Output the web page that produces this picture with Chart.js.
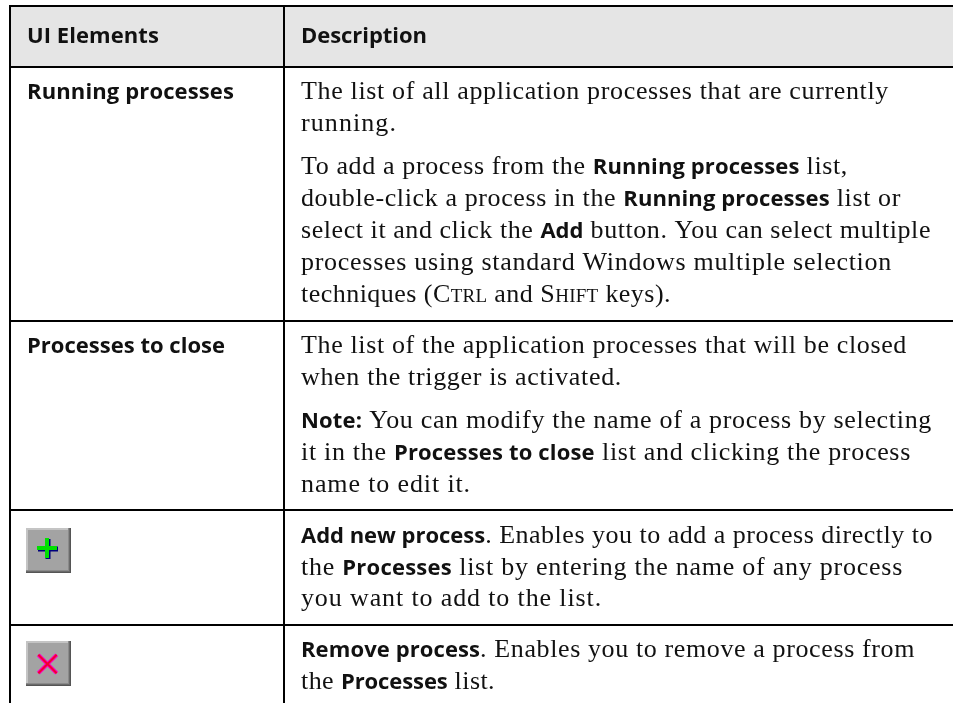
<!DOCTYPE html>
<html>
<head>
<meta charset="utf-8">
<style>
  html, body { margin: 0; padding: 0; background: #fff; overflow: hidden; }
  canvas { display: block; }
</style>
<script src="https://cdn.jsdelivr.net/npm/chart.js@4"></script>
</head>
<body>
<canvas id="tableChart" width="953" height="703"></canvas>
<script>
// table structure
const columnEdges = [10, 284];
const rowEdges    = [6, 67, 321, 510, 625];
const iconRows    = [550.5, 663.5];

// text lines: [x, baseline, right end, runs]; a run is [style, text]
const B = 'b', R = 'r', S = 's';
const textLines = [
  [27, 43, 159, [[B, 'UI Elements']]],
  [301, 43, 427, [[B, 'Description']]],
  [27, 99, 234, [[B, 'Running processes']]],
  [301, 99, 889, [[R, 'The list of all application processes that are currently']]],
  [301, 131, 397, [[R, 'running.']]],
  [301, 174, 848, [[R, 'To add a process from the '], [B, 'Running processes'], [R, ' list,']]],
  [301, 206, 901, [[R, 'double-click a process in the '], [B, 'Running processes'], [R, ' list or']]],
  [301, 238, 931, [[R, 'select it and click the '], [B, 'Add'], [R, ' button. You can select multiple']]],
  [301, 270, 892, [[R, 'processes using standard Windows multiple selection']]],
  [301, 302, 671, [[R, 'techniques (C'], [S, 'TRL'], [R, ' and S'], [S, 'HIFT'], [R, ' keys).']]],
  [27, 353, 225, [[B, 'Processes to close']]],
  [301, 353, 907, [[R, 'The list of the application processes that will be closed']]],
  [301, 385, 622, [[R, 'when the trigger is activated.']]],
  [301, 428, 932, [[B, 'Note:'], [R, ' You can modify the name of a process by selecting']]],
  [301, 460, 911, [[R, 'it in the '], [B, 'Processes to close'], [R, ' list and clicking the process']]],
  [301, 492, 471, [[R, 'name to edit it.']]],
  [301, 543, 933, [[B, 'Add new process'], [R, '. Enables you to add a process directly to']]],
  [301, 575, 903, [[R, 'the '], [B, 'Processes'], [R, ' list by entering the name of any process']]],
  [301, 606, 602, [[R, 'you want to add to the list.']]],
  [301, 657, 915, [[B, 'Remove process'], [R, '. Enables you to remove a process from']]],
  [301, 689, 495, [[R, 'the '], [B, 'Processes'], [R, ' list.']]]
];

const fonts = {
  b: { font: '700 22px "Open Sans"', spacing: 0.1 },
  r: { font: '26px "Liberation Serif"', spacing: 0.62 },
  s: { font: '19px "Liberation Serif"', spacing: 0.4 }
};

const tableText = {
  id: 'tableText',
  afterDraw(chart) {
    const ctx = chart.ctx;
    ctx.save();
    ctx.fillStyle = '#111';
    ctx.textBaseline = 'alphabetic';
    const runWidth = ([style, str], extra) => {
      ctx.font = fonts[style].font;
      ctx.letterSpacing = (fonts[style].spacing + extra) + 'px';
      return ctx.measureText(str).width;
    };
    textLines.forEach(([x, y, end, runs]) => {
      // nudge the spacing so each line ends where it does in the reference
      const natural = runs.reduce((sum, run) => sum + runWidth(run, 0), 0);
      const chars = runs.reduce((sum, run) => sum + run[1].length, 0);
      const extra = (end - x - natural) / chars;
      let cx = x;
      runs.forEach(run => {
        const w = runWidth(run, extra);
        ctx.fillText(run[1], cx, y);
        cx += w;
      });
    });
    ctx.restore();
  }
};

// one layer of the button bevel, side in px, offset from the button centre
const layer = (side, dx, dy, color, order) => ({
  data: iconRows.map(y => ({ x: 48.5 + dx, y: y + dy })),
  pointStyle: 'rect',
  radius: side / Math.SQRT2,
  backgroundColor: color,
  borderWidth: 0,
  order
});

const glyph = (row, style, radius, dx, dy, color, width, order) => ({
  data: [{ x: 48.5 + dx, y: iconRows[row] + dy }],
  pointStyle: style,
  radius,
  borderColor: color,
  borderWidth: width,
  order
});

new Chart(document.getElementById('tableChart').getContext('2d'), {
  type: 'scatter',
  data: {
    datasets: [
      {
        type: 'bar',
        data: [{ x: 481, y: [6, 67] }],
        backgroundColor: '#e5e5e5',
        barThickness: 944,
        order: 20
      },
      layer(45, 0, 0, '#555555', 11),
      layer(44, -0.5, -0.5, '#6a6a6a', 10),
      layer(43, -1, -1, '#8a8a8a', 9),
      layer(42, -1.5, -1.5, '#c4c4c4', 8),
      layer(40, -0.5, -0.5, '#a3a3a3', 7),
      glyph(0, 'cross', 10, -0.5, -1.5, '#00007c', 5, 5),
      glyph(0, 'cross', 10, -1.5, -2.5, '#00e000', 4, 4),
      glyph(1, 'crossRot', 13, -1, 0.5, '#ff00c8', 4, 5),
      glyph(1, 'crossRot', 13, -1, 0.5, '#f00030', 2, 4)
    ]
  },
  options: {
    responsive: false,
    animation: false,
    layout: { autoPadding: false, padding: { left: 9, top: 5, right: 0, bottom: 0 } },
    plugins: { legend: { display: false }, tooltip: { enabled: false } },
    scales: {
      x: {
        type: 'linear', min: 9, max: 953, offset: false,
        afterFit(s) { s.height = 0; },
        afterBuildTicks(s) { s.ticks = columnEdges.map(value => ({ value })); },
        ticks: { display: false },
        border: { display: false },
        grid: { color: '#000', lineWidth: 2, drawTicks: false, offset: false, z: 1 }
      },
      y: {
        type: 'linear', min: 5, max: 703, reverse: true,
        afterFit(s) { s.width = 0; },
        afterBuildTicks(s) { s.ticks = rowEdges.map(value => ({ value })); },
        ticks: { display: false },
        border: { display: false },
        grid: { color: '#000', lineWidth: 2, drawTicks: false, z: 1 }
      }
    }
  },
  plugins: [tableText]
});
</script>
</body>
</html>
